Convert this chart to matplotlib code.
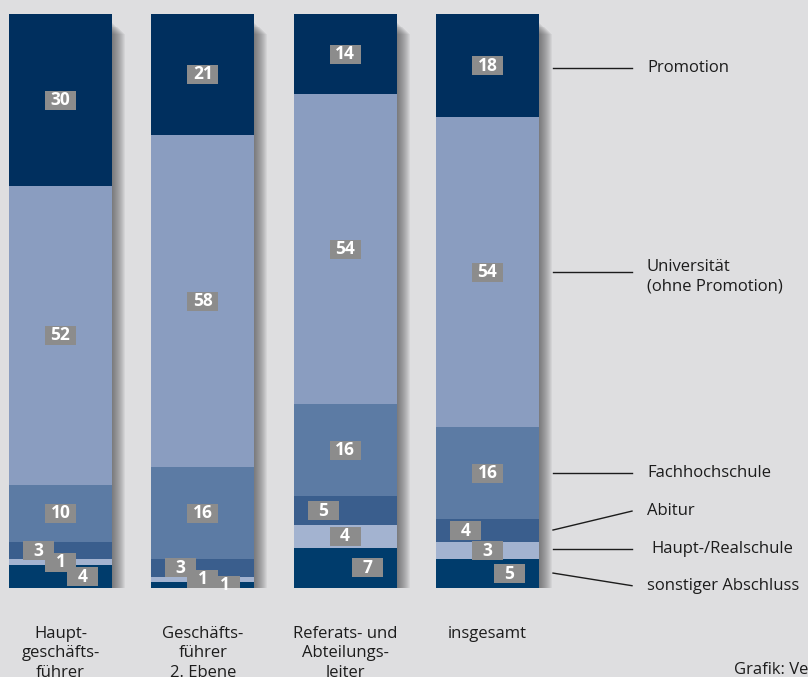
import numpy as np
import matplotlib.pyplot as plt
from matplotlib.patches import Rectangle

plt.rcParams['font.family'] = ['Open Sans', 'DejaVu Sans']

categories = ["Haupt-\ngeschäfts-\nführer", "Geschäfts-\nführer\n2. Ebene",
              "Referats- und\nAbteilungs-\nleiter", "insgesamt"]
segments = ["sonstiger Abschluss", "Haupt-/Realschule", "Abitur",
            "Fachhochschule", "Universität\n(ohne Promotion)", "Promotion"]
sonstiger = [4, 1, 7, 5]
haupt_real = [1, 1, 4, 3]
abitur = [3, 3, 5, 4]
fachhochschule = [10, 16, 16, 16]
universitaet = [52, 58, 54, 54]
promotion = [30, 21, 14, 18]

values = [sonstiger, haupt_real, abitur, fachhochschule, universitaet, promotion]
colors = ["#003c6c", "#a3b3d0", "#3a5e8d", "#5c7ba4", "#8a9dc0", "#002f5e"]

bg = "#dedee0"
txt = "#1c1c1c"
fig = plt.figure(figsize=(8.08, 6.77), dpi=100, facecolor=bg)
ax = fig.add_axes([0, 89 / 677, 1, 574 / 677])
ax.set_facecolor(bg)

px_x = 1 / 142.3          # data units per pixel (x)
px_y = 100 / 574          # data units per pixel (y)
ax.set_xlim(-60.5 * px_x, (808 - 60.5) * px_x)
ax.set_ylim(0, 100)
ax.axis("off")

x = np.arange(len(categories))
width = 103 * px_x

# drop shadow
for k in range(1, 14):
    ax.bar(x + k * px_x, 100 - 8 * px_y, bottom=-k * 0.9 * px_y, width=width,
           color="#404040", alpha=0.065, zorder=1, linewidth=0)

bottom = np.zeros(len(categories))
mids = []
for vals, col in zip(values, colors):
    vals = np.array(vals, dtype=float)
    ax.bar(x, vals, bottom=bottom, width=width, color=col, linewidth=0, zorder=2)
    mids.append(bottom + vals / 2)
    bottom += vals

# value boxes
bw, bh = 31 * px_x, 19 * px_y
offsets = [22, 0, -22, 0, 0, 0]   # small lower segments are staggered
for si, vals in enumerate(values):
    for i, v in enumerate(vals):
        cx = x[i] + offsets[si] * px_x
        cy = mids[si][i]
        ax.add_patch(Rectangle((cx - bw / 2, cy - bh / 2), bw, bh,
                               facecolor="#8c8c8c", edgecolor="none", zorder=3))
        ax.text(cx, cy, str(v), ha="center", va="center", color="white",
                fontsize=12.5, fontweight="bold", zorder=4)

# category labels
for i, lab in enumerate(categories):
    ax.text(x[i], -6.6, lab, ha="center", va="top", fontsize=12,
            color=txt, linespacing=1.3, clip_on=False)

# legend lines to last bar
x0 = (553 - 60.5) * px_x
x1 = (632 - 60.5) * px_x
xt = (647 - 60.5) * px_x
line_y = [2.6, 6.8, 10.1, 20.0, 55.1, 90.6]
text_y = [0.4, 6.8, 13.4, 20.0, 55.1, 90.6]
for si, name in enumerate(segments):
    ax.plot([x0, x1], [line_y[si], text_y[si]], color=txt, lw=1.0,
            clip_on=False, zorder=3)
    ty = text_y[si] - 0.8 if "\n" in name else text_y[si]
    ax.text(xt + (4 * px_x if si == 1 else 0), ty, name, ha="left", va="center",
            fontsize=12, color=txt, linespacing=1.3, clip_on=False)

fig.text(734 / 808, 1 - 670 / 677, "Grafik: Verband", ha="left", va="center",
         fontsize=12, color=txt)

fig.savefig("out.png", dpi=100, facecolor=bg)
